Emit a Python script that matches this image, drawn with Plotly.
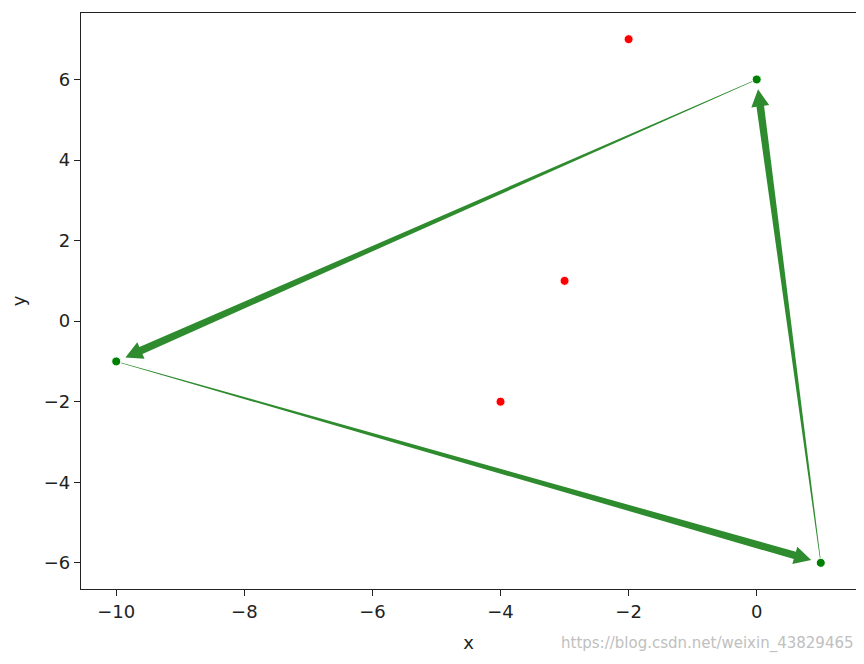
import numpy as np
import plotly.graph_objects as go

# pontos internos e pontos do fecho convexo
pts_x = [-2, -3, -4]
pts_y = [7, 1, -2]
hull_x = [0, -10, 1]
hull_y = [6, -1, -6]

x_ticks = [-10, -8, -6, -4, -2, 0]
y_ticks = [-6, -4, -2, 0, 2, 4, 6]

# a página tem margem de 8px no body, figura menor para caber na janela
W, H = 856, 656
ml, mr, mt, mb = 73, 8, 5, 75
pw, ph = W - ml - mr, H - mt - mb

all_x = pts_x + hull_x
all_y = pts_y + hull_y
xpad = 0.05 * (max(all_x) - min(all_x))
ypad = 0.05 * (max(all_y) - min(all_y))
xr = [min(all_x) - xpad, max(all_x) + xpad]
yr = [min(all_y) - ypad, max(all_y) + ypad]
sx = pw / (xr[1] - xr[0])
sy = ph / (yr[1] - yr[0])


def seta(x0, y0, x1, y1, shrink=10, hl=17, hw=18, w0=0.3, w1=3.8):
    # geometria em pixels, depois volta para coordenadas de dados
    p = np.array([x0 * sx, y0 * sy])
    q = np.array([x1 * sx, y1 * sy])
    u = (q - p) / np.linalg.norm(q - p)
    n = np.array([-u[1], u[0]])
    t = q - shrink * u
    b = t - hl * u
    poly = [p + n * w0, b + n * w1, b + n * hw / 2, t,
            b - n * hw / 2, b - n * w1, p - n * w0, p + n * w0]
    xs = [v[0] / sx for v in poly]
    ys = [v[1] / sy for v in poly]
    return xs, ys


fig = go.Figure()

for i in range(len(hull_x)):
    j = (i + 1) % len(hull_x)
    xs, ys = seta(hull_x[i], hull_y[i], hull_x[j], hull_y[j])
    fig.add_trace(go.Scatter(x=xs, y=ys, mode='lines', fill='toself',
                             fillcolor='#2e8b2e', line=dict(width=0, color='#2e8b2e'),
                             hoverinfo='skip', showlegend=False))

fig.add_trace(go.Scatter(x=pts_x, y=pts_y, mode='markers',
                         marker=dict(color='#ff0000', size=9, line=dict(width=1, color='white')),
                         showlegend=False))
fig.add_trace(go.Scatter(x=hull_x, y=hull_y, mode='markers',
                         marker=dict(color='#008000', size=9, line=dict(width=1, color='white')),
                         showlegend=False))

eixo = dict(showgrid=False, zeroline=False, showline=True, linecolor='#222', linewidth=1.4,
            mirror=True, ticks='outside', ticklen=6, tickcolor='#222', tickwidth=1.2,
            tickfont=dict(size=18, color='#222'), automargin=False)

fig.update_layout(
    width=W, height=H,
    margin=dict(l=ml, r=mr, t=mt, b=mb),
    plot_bgcolor='white', paper_bgcolor='white',
    font=dict(family='DejaVu Sans', color='#222'),
    xaxis=dict(eixo, range=xr, tickvals=x_ticks, title=dict(text='x', font=dict(size=18), standoff=15)),
    yaxis=dict(eixo, range=yr, tickvals=y_ticks, title=dict(text='y', font=dict(size=18), standoff=26)),
    annotations=[dict(text='https://blog.csdn.net/weixin_43829465', xref='paper', yref='paper',
                      x=1.0, y=-0.095, xanchor='right', yanchor='middle', showarrow=False,
                      font=dict(size=15, color='#c0c0c0', family='Liberation Sans Narrow, DejaVu Sans'))],
)

fig.write_html("out.html")
